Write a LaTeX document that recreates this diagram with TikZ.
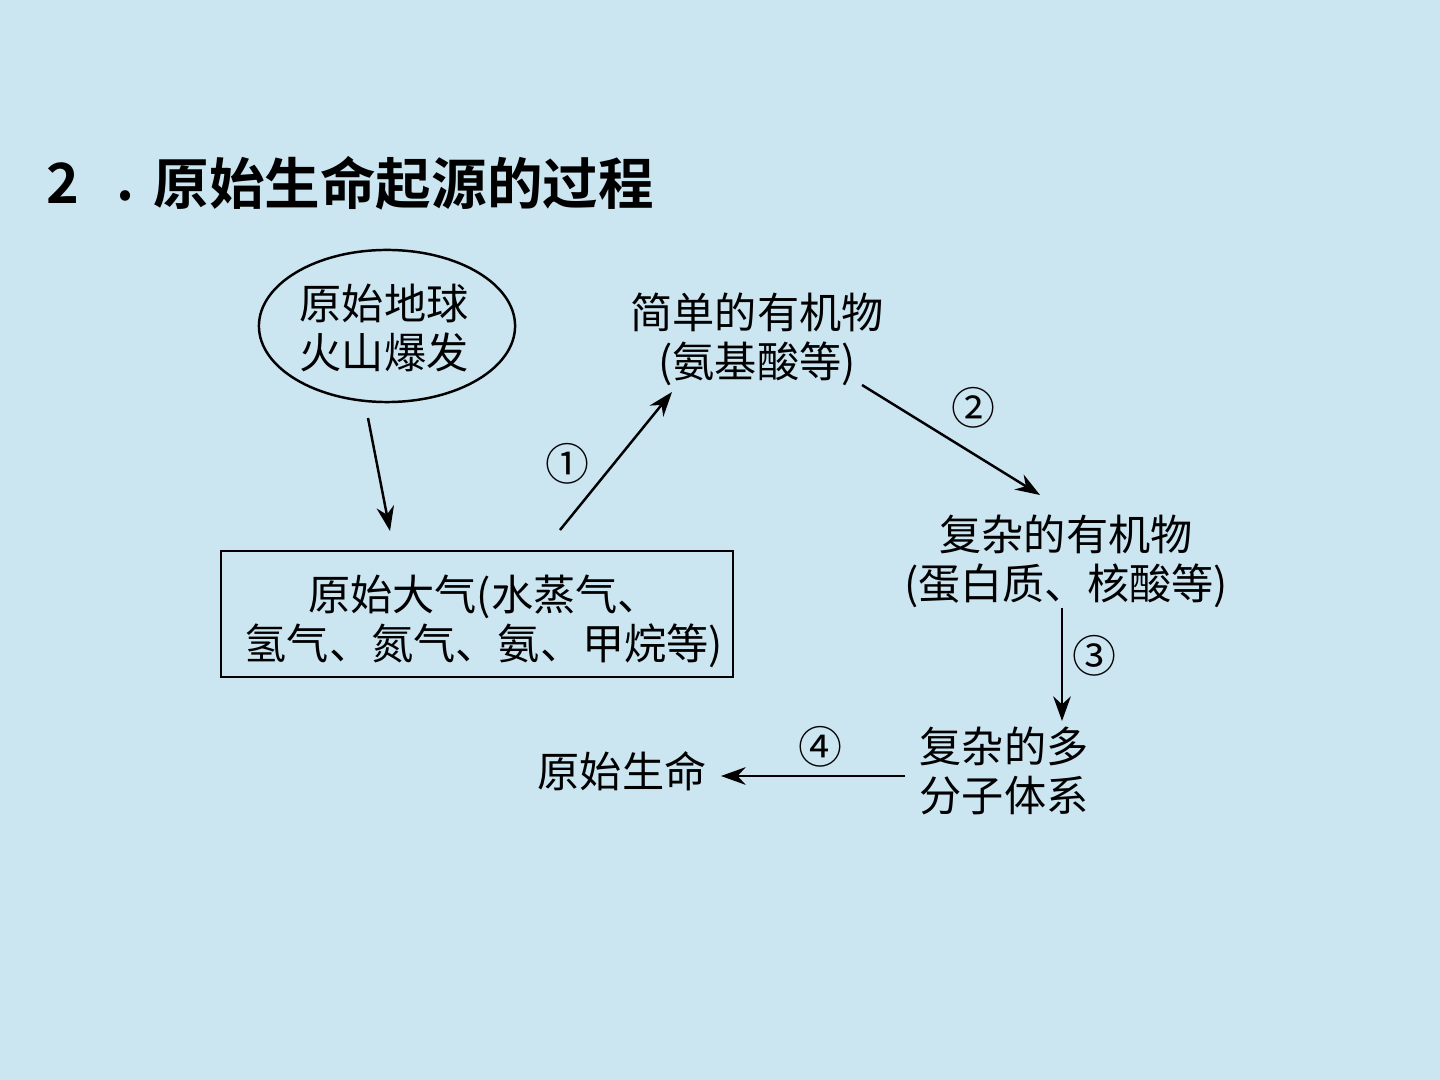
\documentclass[tikz,border=0pt]{standalone}
\usepackage{fontspec}
\newfontfamily\cjk{Noto Sans CJK SC}
\newfontfamily\cjkb{Noto Sans CJK SC}[BoldFont={* Bold}]
\usetikzlibrary{arrows.meta,shapes.geometric}
\definecolor{bg}{RGB}{203,229,241}
\tikzset{
  lbl/.style={font=\cjk\fontsize{12}{15}\selectfont, align=center, inner sep=0pt},
  num/.style={font=\cjk\fontsize{12.5}{14}\selectfont, inner sep=0pt},
  ttl/.style={inner sep=0pt, font=\cjkb\bfseries\fontsize{15.8}{18}\selectfont},
  arr/.style={line width=0.7pt, -{Stealth[length=7pt,width=5pt]}}
}
\begin{document}
\begin{tikzpicture}[x=0.01cm,y=-0.01cm]
\fill[bg] (0,0) rectangle (1440,1080);
\useasboundingbox (0,0) rectangle (1440,1080);
\node[ttl, anchor=west] (t2) at (46,183) {2};
\node[ttl, anchor=center] (tdot) at (126,196) {.};
\node[ttl, anchor=west] (title) at (153,183) {原始生命起源的过程};
\node[draw, ellipse, line width=0.7pt, minimum width=2.56cm, minimum height=1.52cm, inner sep=0pt, lbl] (earth) at (387,326) {};
\node[lbl] (earthtxt) at (384,328) {原始地球\\[-1pt]火山爆发};
\node[draw, line width=0.7pt, minimum width=5.12cm, minimum height=1.26cm, inner sep=0pt] (atm) at (477,614) {};
\node[lbl] (atmtxt) at (484,621) {原始大气(水蒸气、\\[-1pt]氢气、氮气、氨、甲烷等)};
\node[lbl] (simple) at (757,339) {简单的有机物\\[-1pt](氨基酸等)};
\node[lbl] (complex) at (1066,561) {复杂的有机物\\[-1pt](蛋白质、核酸等)};
\node[lbl] (multi) at (1004,771) {复杂的多\\[-1pt]分子体系};
\node[lbl] (life) at (622,771) {原始生命};
\coordinate (a1) at (368,418); \coordinate (b1) at (390,531);
\coordinate (a2) at (560,530); \coordinate (b2) at (672,392);
\coordinate (a3) at (862,385); \coordinate (b3) at (1040,495);
\coordinate (a4) at (1062,608); \coordinate (b4) at (1062,721);
\coordinate (a5) at (905,776); \coordinate (b5) at (721,776);
\draw[arr] (a1) -- (b1);
\draw[arr] (a2) -- (b2);
\draw[arr] (a3) -- (b3);
\draw[arr] (a4) -- (b4);
\draw[arr] (a5) -- (b5);
\node[num] (n1) at (567,464) {①};
\node[num] (n2) at (973,408) {②};
\node[num] (n3) at (1094,656) {③};
\node[num] (n4) at (820,747) {④};
\end{tikzpicture}
\end{document}
